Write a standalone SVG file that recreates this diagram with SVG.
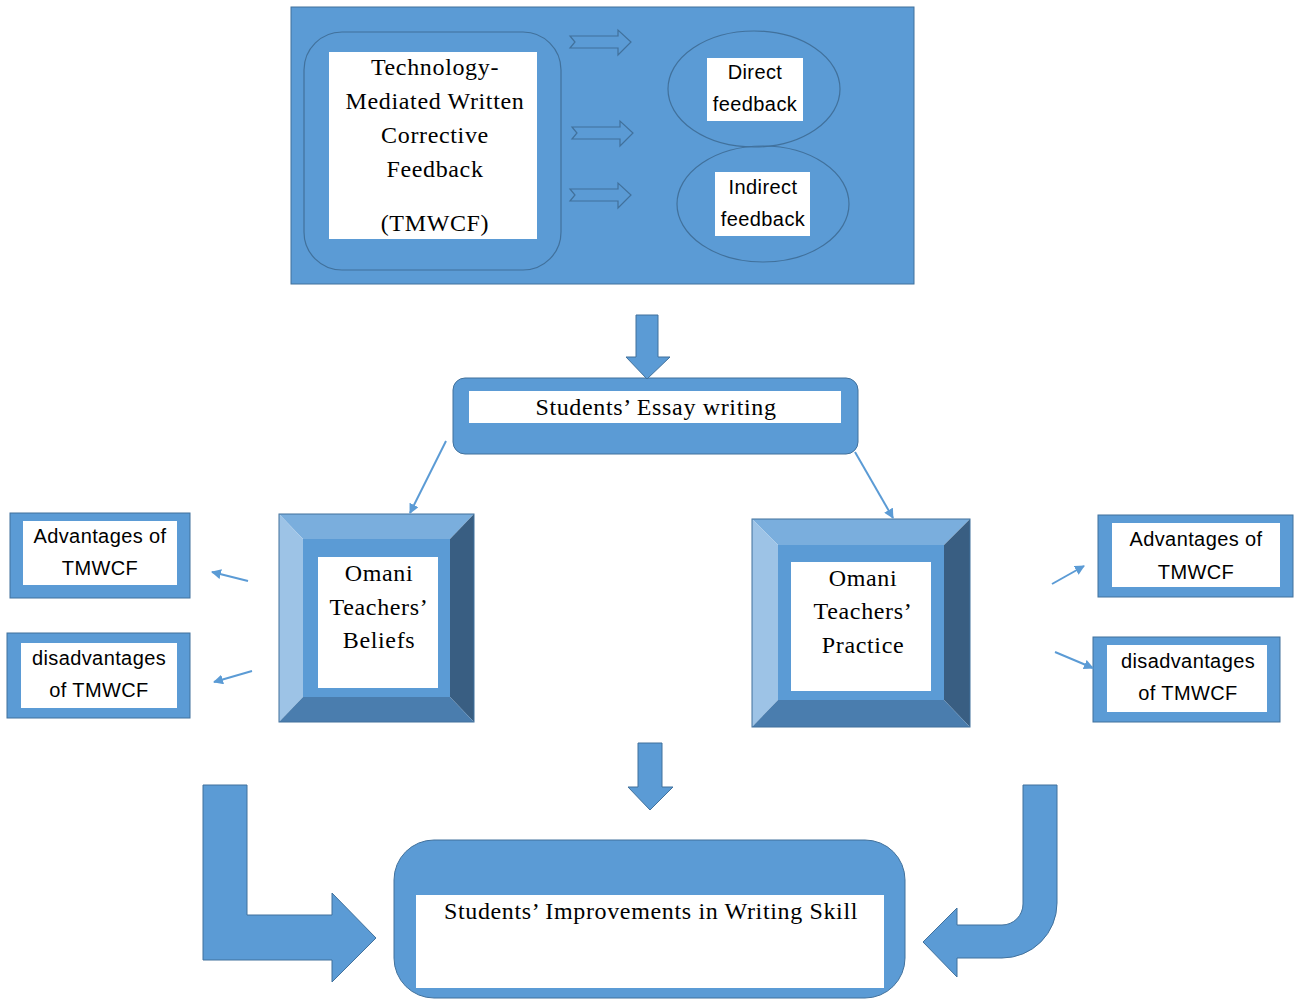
<svg xmlns="http://www.w3.org/2000/svg" width="1294" height="1000" viewBox="0 0 1294 1000">
<defs>
<style>
.blue{fill:#5B9BD5;stroke:#41719C;stroke-width:1}
.bluens{fill:#5B9BD5;stroke:none}
.white{fill:#FFFFFF;stroke:none}
.outl{fill:none;stroke:#41719C;stroke-width:1.2}
.serif{font-family:"Liberation Serif","Times New Roman",serif;fill:#000;text-anchor:middle;letter-spacing:0.65px;font-size:24px}
.sans{font-family:"Liberation Sans",Arial,sans-serif;fill:#000;text-anchor:middle;letter-spacing:0.4px;font-size:20px}
.conn{stroke:#5B9BD5;stroke-width:2;fill:none}
</style>
<marker id="ah" viewBox="0 0 10 10" refX="9" refY="5" markerWidth="5" markerHeight="5" orient="auto" markerUnits="strokeWidth">
<path d="M0,0 L10,5 L0,10 Z" fill="#5B9BD5"/>
</marker>
</defs>
<rect width="1294" height="1000" fill="#FFFFFF"/>

<g id="tmwcf-panel">
<rect x="291" y="7" width="623" height="277" class="blue"/>
<rect x="304" y="32" width="257" height="238" rx="38" ry="38" class="outl"/>
<rect x="329" y="52" width="208" height="187" class="white"/>
<text class="serif" x="435" y="75">Technology-</text>
<text class="serif" x="435" y="109">Mediated Written</text>
<text class="serif" x="435" y="143">Corrective</text>
<text class="serif" x="435" y="177">Feedback</text>
<text class="serif" x="435" y="231">(TMWCF)</text>
<path d="M570,36 L618,36 L618,30 L631,42 L618,55 L618,48 L570,48 L575,42 Z" class="outl"/>
<path d="M572,127 L620,127 L620,121 L633,133 L620,146 L620,139 L572,139 L577,133 Z" class="outl"/>
<path d="M570,189 L618,189 L618,183 L631,195 L618,208 L618,201 L570,201 L575,195 Z" class="outl"/>
</g>

<g id="direct-feedback">
<ellipse cx="754" cy="89" rx="86" ry="58" class="outl"/>
<rect x="707" y="58" width="96" height="63" class="white"/>
<text class="sans" x="755" y="79">Direct</text>
<text class="sans" x="755" y="111">feedback</text>
</g>

<g id="indirect-feedback">
<ellipse cx="763" cy="204" rx="86" ry="58" class="outl"/>
<rect x="715" y="172" width="95" height="64" class="white"/>
<text class="sans" x="763" y="194">Indirect</text>
<text class="sans" x="763" y="226">feedback</text>
</g>

<g id="essay-writing">
<rect x="453" y="378" width="405" height="76" rx="12" ry="12" class="blue"/>
<rect x="469" y="391" width="372" height="32" class="white"/>
<text class="serif" x="656" y="415">Students’ Essay writing</text>
</g>

<g id="teachers-beliefs">
<polygon points="279,514 474,514 450,539 303,539" fill="#7AAEDD"/>
<polygon points="279,514 303,539 303,697 279,722" fill="#9DC3E6"/>
<polygon points="474,514 474,722 450,697 450,539" fill="#395E82"/>
<polygon points="279,722 303,697 450,697 474,722" fill="#4A7DAE"/>
<rect x="303" y="539" width="147" height="158" class="bluens"/>
<rect x="279" y="514" width="195" height="208" fill="none" stroke="#41719C" stroke-width="1"/>
<rect x="318" y="557" width="120" height="131" class="white"/>
<text class="serif" x="379" y="581">Omani</text>
<text class="serif" x="379" y="615">Teachers’</text>
<text class="serif" x="379" y="648">Beliefs</text>
</g>

<g id="teachers-practice">
<polygon points="752,519 970,519 944,545 778,545" fill="#7AAEDD"/>
<polygon points="752,519 778,545 778,700 752,727" fill="#9DC3E6"/>
<polygon points="970,519 970,727 944,700 944,545" fill="#395E82"/>
<polygon points="752,727 778,700 944,700 970,727" fill="#4A7DAE"/>
<rect x="778" y="545" width="166" height="155" class="bluens"/>
<rect x="752" y="519" width="218" height="208" fill="none" stroke="#41719C" stroke-width="1"/>
<rect x="791" y="562" width="140" height="129" class="white"/>
<text class="serif" x="863" y="586">Omani</text>
<text class="serif" x="863" y="619">Teachers’</text>
<text class="serif" x="863" y="653">Practice</text>
</g>

<g id="beliefs-advantages">
<rect x="10" y="513" width="180" height="85" class="blue"/>
<rect x="23" y="521" width="154" height="64" class="white"/>
<text class="sans" x="100" y="543">Advantages of</text>
<text class="sans" x="100" y="575">TMWCF</text>
</g>

<g id="beliefs-disadvantages">
<rect x="7" y="633" width="183" height="85" class="blue"/>
<rect x="21" y="643" width="156" height="65" class="white"/>
<text class="sans" x="99" y="665">disadvantages</text>
<text class="sans" x="99" y="697">of TMWCF</text>
</g>

<g id="practice-advantages">
<rect x="1098" y="515" width="195" height="82" class="blue"/>
<rect x="1112" y="523" width="168" height="64" class="white"/>
<text class="sans" x="1196" y="546">Advantages of</text>
<text class="sans" x="1196" y="579">TMWCF</text>
</g>

<g id="practice-disadvantages">
<rect x="1093" y="637" width="187" height="85" class="blue"/>
<rect x="1107" y="645" width="160" height="67" class="white"/>
<text class="sans" x="1188" y="668">disadvantages</text>
<text class="sans" x="1188" y="700">of TMWCF</text>
</g>

<g id="writing-improvements">
<rect x="394" y="840" width="511" height="158" rx="40" ry="40" class="blue"/>
<rect x="416" y="895" width="468" height="93" class="white"/>
<text class="serif" x="651" y="919">Students’ Improvements in Writing Skill</text>
</g>

<g id="connectors">
<path d="M636,315 L658,315 L658,357 L670,357 L647,379 L626,357 L636,357 Z" class="blue"/>
<path d="M638,743 L662,743 L662,787 L673,787 L650,810 L628,787 L638,787 Z" class="blue"/>
<line x1="446" y1="441" x2="410" y2="513" class="conn" marker-end="url(#ah)"/>
<line x1="855" y1="452" x2="893" y2="518" class="conn" marker-end="url(#ah)"/>
<line x1="248" y1="581" x2="212" y2="572" class="conn" marker-end="url(#ah)"/>
<line x1="252" y1="671" x2="214" y2="682" class="conn" marker-end="url(#ah)"/>
<line x1="1052" y1="584" x2="1084" y2="566" class="conn" marker-end="url(#ah)"/>
<line x1="1055" y1="652" x2="1093" y2="668" class="conn" marker-end="url(#ah)"/>
<path d="M203,785 L247,785 L247,915 L332,915 L332,893 L376,938 L332,982 L332,960 L203,960 Z" class="blue"/>
<path d="M1023,785 H1057 V903 A55,55 0 0 1 1002,958 H957 V977 L923,942 L957,908 V925 H1002 A21,21 0 0 0 1023,904 Z" class="blue"/>
</g>
</svg>
